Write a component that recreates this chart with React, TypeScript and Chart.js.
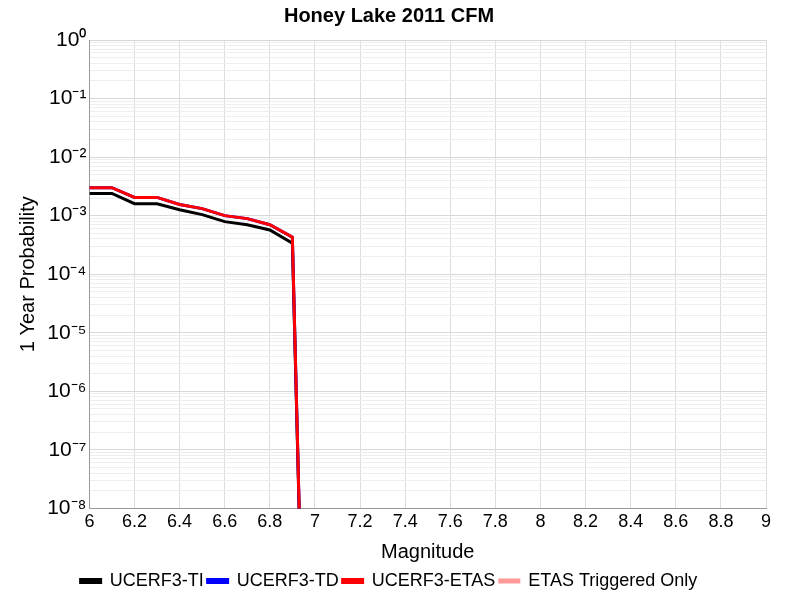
import { useEffect, useRef } from 'react';
import { Chart } from 'chart.js/auto';

const magnitudes = [6.0, 6.1, 6.2, 6.3, 6.4, 6.5, 6.6, 6.7, 6.8, 6.9, 7.0];
const ucerf3TI = [2.4e-3, 2.4e-3, 1.6e-3, 1.6e-3, 1.26e-3, 1.04e-3, 7.9e-4, 7e-4, 5.7e-4, 3.4e-4, 2e-19];
const ucerf3TD = [3.0e-3, 3.0e-3, 2.05e-3, 2.05e-3, 1.55e-3, 1.32e-3, 1.0e-3, 8.9e-4, 7e-4, 4.3e-4, 2e-19];
const ucerf3ETAS = [3.0e-3, 3.0e-3, 2.05e-3, 2.05e-3, 1.55e-3, 1.32e-3, 1.0e-3, 8.9e-4, 7e-4, 4.3e-4, 2e-19];
const triggeredOnly: number[] = [];

const sup: Record<string, string> = { '-': '⁻', '0': '⁰', '1': '¹', '2': '²', '3': '³', '4': '⁴', '5': '⁵', '6': '⁶', '7': '⁷', '8': '⁸', '9': '⁹' };

const isPow10 = (v: number) => Math.abs(Math.log10(v) - Math.round(Math.log10(v))) < 1e-6;

export default function App() {
  const canvasRef = useRef<HTMLCanvasElement | null>(null);

  useEffect(() => {
    const ctx = canvasRef.current?.getContext('2d');
    if (!ctx) return;
    const pts = (arr: number[]) => arr.map((y, i) => ({ x: magnitudes[i], y }));
    const chart = new Chart(ctx, {
      type: 'line',
      data: {
        datasets: [
          { label: 'UCERF3-TI', data: pts(ucerf3TI), borderColor: '#000000', backgroundColor: '#000000', borderWidth: 3, pointRadius: 0, order: 4 },
          { label: 'UCERF3-TD', data: pts(ucerf3TD), borderColor: '#0000ff', backgroundColor: '#0000ff', borderWidth: 3, pointRadius: 0, order: 3 },
          { label: 'UCERF3-ETAS', data: pts(ucerf3ETAS), borderColor: '#ff0000', backgroundColor: '#ff0000', borderWidth: 3, pointRadius: 0, order: 2 },
          { label: 'ETAS Triggered Only', data: pts(triggeredOnly), borderColor: '#ff9999', backgroundColor: '#ff9999', borderWidth: 2, pointRadius: 0, order: 1 },
        ],
      },
      options: {
        animation: false,
        responsive: false,
        layout: { padding: { right: 34, top: 4, left: 12 } },
        plugins: {
          title: { display: true, text: 'Honey Lake 2011 CFM', color: '#000', font: { family: 'Liberation Sans', size: 20, weight: 'bold' }, padding: { top: 0, bottom: 12 } },
          legend: {
            position: 'bottom',
            reverse: false,
            labels: {
              color: '#000',
              font: { family: 'Liberation Sans', size: 18 },
              boxWidth: 20,
              boxHeight: 3,
              padding: 4,
              sort: (a, b) => a.datasetIndex! - b.datasetIndex!,
            },
          },
          tooltip: { enabled: false },
        },
        scales: {
          x: {
            type: 'linear',
            min: 6,
            max: 9,
            ticks: { stepSize: 0.2, color: '#000', font: { family: 'Liberation Sans', size: 18 }, callback: (v) => String(Math.round(Number(v) * 10) / 10) },
            grid: { color: '#dddddd', tickLength: 0 },
            border: { color: '#999' },
            title: { display: true, text: 'Magnitude', color: '#000', font: { family: 'Liberation Sans', size: 20 } },
          },
          y: {
            type: 'logarithmic',
            min: 1e-8,
            max: 1,
            afterBuildTicks: (axis) => {
              const t: { value: number }[] = [];
              for (let e = -8; e <= 0; e++) {
                for (let m = 1; m <= 9; m++) {
                  const v = m * Math.pow(10, e);
                  if (v <= 1) t.push({ value: v });
                }
              }
              axis.ticks = t;
            },
            ticks: {
              autoSkip: false,
              color: '#000',
              font: { family: 'Liberation Sans', size: 21 },
              callback: (v) => {
                const n = Number(v);
                if (!isPow10(n)) return '';
                const e = String(Math.round(Math.log10(n)));
                return '10' + e.split('').map((c) => sup[c]).join('');
              },
            },
            grid: {
              color: (c) => (isPow10(c.tick.value) ? '#d8d8d8' : '#eeeeee'),
              tickLength: 0,
            },
            border: { color: '#999' },
            title: { display: true, text: '1 Year Probability', color: '#000', font: { family: 'Liberation Sans', size: 20 } },
          },
        },
      },
    });
    return () => chart.destroy();
  }, []);

  return (
    <div style={{ margin: -8 }}>
      <canvas ref={canvasRef} width={800} height={600} style={{ display: 'block', background: '#fff' }} />
    </div>
  );
}
